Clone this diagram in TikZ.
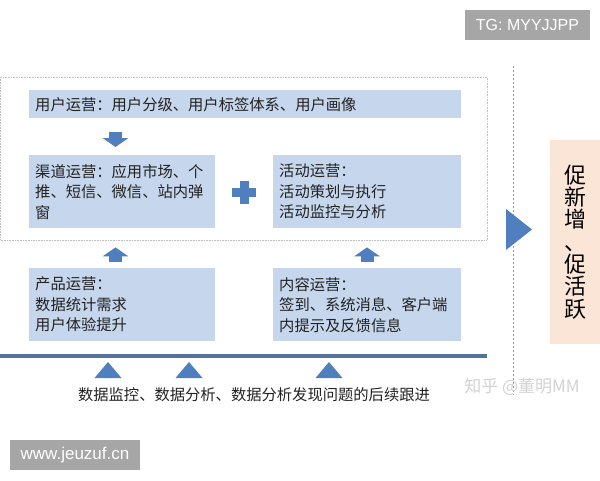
\documentclass[tikz,border=0pt]{standalone}
\usepackage{fontspec}
\setmainfont{Noto Sans CJK SC}
\newfontfamily\wmfont{Liberation Sans}
\usetikzlibrary{arrows.meta}
\definecolor{boxblue}{HTML}{C6D6EC}
\definecolor{arrowblue}{HTML}{4F7FBF}
\definecolor{barblue}{HTML}{52739B}
\definecolor{peach}{HTML}{FBE5D6}
\definecolor{txtgray}{HTML}{222222}
\definecolor{wmgray}{HTML}{A6A6A6}
\tikzset{font=\fontsize{15.3pt}{20.5pt}\selectfont}

\begin{document}
\begin{tikzpicture}[x=1pt,y=-1pt,
	opbox/.style={fill=boxblue, anchor=north west, align=left, inner xsep=6pt, inner ysep=0pt, text=txtgray},
	blockarrow/.style={arrowblue, line width=13pt, -{Triangle[width=25.5pt,length=9pt]}},
	wmbox/.style={fill=wmgray, text=white, inner sep=0pt, minimum height=30pt}]
	\useasboundingbox (0,0) rectangle (600,480);

	\draw[gray!50, densely dotted, line width=0.6pt] (0.5,77) rectangle (487,240);
	\draw[gray!80, dash pattern=on 2pt off 2pt, line width=0.7pt] (513,66) -- (513,395);

	\node[opbox, text width=420pt, minimum height=28pt] (user) at (29,90) {用户运营：用户分级、用户标签体系、用户画像};
	\node[opbox, text width=174pt, minimum height=73pt] (chan) at (29,155) {渠道运营：应用市场、个\\推、短信、微信、站内弹\\窗};
	\node[opbox, text width=176pt, minimum height=73pt] (act) at (273,155) {活动运营：\\活动策划与执行\\活动监控与分析};
	\node[opbox, text width=174pt, minimum height=73pt] (prod) at (29,268) {产品运营：\\数据统计需求\\用户体验提升};
	\node[opbox, text width=176pt, minimum height=73pt] (cont) at (273,268) {内容运营：\\签到、系统消息、客户端\\内提示及反馈信息};

	\coordinate (leftx) at (115.5,0);
	\coordinate (rightx) at (367,0);
	\draw[blockarrow, shorten <=14pt, shorten >=8pt] (user.south -| leftx) -- (chan.north -| leftx);
	\draw[blockarrow, shorten <=6pt, shorten >=19pt] (prod.north -| leftx) -- (chan.south -| leftx);
	\draw[blockarrow, shorten <=6pt, shorten >=19pt] (cont.north -| rightx) -- (act.south -| rightx);

	\coordinate (plus) at (244,192);
	\draw[arrowblue, line width=9pt] (plus) ++(-12,0) -- ++(24,0);
	\draw[arrowblue, line width=9pt] (plus) ++(0,-11.5) -- ++(0,23);

	\fill[arrowblue] (506,209) -- (532,229.5) -- (506,250) -- cycle;
	\node[fill=peach, minimum width=50pt, minimum height=204pt, align=center, inner sep=0pt,
		font=\fontsize{22pt}{22.3pt}\selectfont] (goal) at (575,242) {促\\新\\增\\、\\促\\活\\跃};

	\draw[barblue, line width=4pt] (0,356) -- (487,356);
	\foreach \tx in {108,189,329}
		\fill[arrowblue] (\tx-13.5,378) -- (\tx,362) -- (\tx+13.5,378) -- cycle;
	\node[text=txtgray] (monitor) at (254,395) {数据监控、数据分析、数据分析发现问题的后续跟进};

	\node[text=gray!35, font=\fontsize{17pt}{19pt}\selectfont] (zhihu) at (522,387) {知乎 @董明MM};
	\node[wmbox, minimum width=125pt, font=\wmfont\fontsize{16pt}{18pt}\selectfont] (tg) at (527.5,25) {TG: MYYJJPP};
	\node[wmbox, minimum width=130pt, font=\wmfont\fontsize{17pt}{19pt}\selectfont] (www) at (75,455) {www.jeuzuf.cn};
\end{tikzpicture}
\end{document}
